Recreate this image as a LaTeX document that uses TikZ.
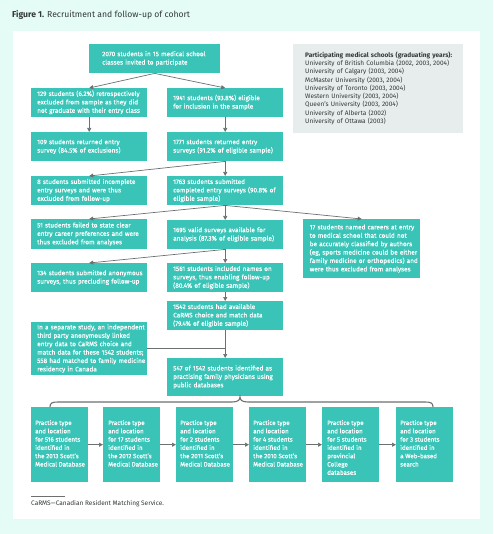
\documentclass[tikz,border=0pt]{standalone}
\usepackage{fontspec}
\setmainfont{Fira Sans}
\newfontfamily\boxfont[FakeBold=0.35]{Fira Sans}
\usetikzlibrary{arrows.meta}
\definecolor{bgc}{HTML}{E4FBF6}
\definecolor{tealb}{HTML}{3AC4B7}
\definecolor{grayb}{HTML}{E7EDEC}
\definecolor{arr}{HTML}{6B7171}
\definecolor{txtd}{HTML}{333838}
\newcommand\mylines[1]{\begin{tabular}{@{}l@{}}#1\end{tabular}}
\begin{document}
\begin{tikzpicture}[x=1pt,y=-1pt,
  tbox/.style={fill=tealb, text=white, font=\boxfont\fontsize{6.45}{8.4}\selectfont, align=left,
    inner xsep=6pt, inner ysep=0pt, anchor=north west, minimum width=116pt, text width=104pt},
  pbox/.style={fill=tealb, anchor=north west, minimum width=57pt, minimum height=75pt, inner sep=0pt},
  conn/.style={draw=arr, line width=0.7pt, -{Triangle[length=4pt,width=4pt]}},
  plain/.style={draw=arr, line width=0.7pt}]
\useasboundingbox (0,0) rectangle (493,534);
\fill[bgc] (0,0) rectangle (493,534);
\fill[white] (13,31) rectangle (480,519);
\node[anchor=west, inner sep=0pt, font=\fontsize{8.6}{10}\selectfont, text=txtd] (title) at (12,15) {\textbf{Figure 1.} Recruitment and follow-up of cohort};

\node[tbox, minimum width=131pt, text width=105pt, inner xsep=13pt, minimum height=29pt] (top) at (89,44) {\mylines{2070 students in 15 medical school\\classes invited to participate}};
\node[fill=grayb, anchor=north west, minimum width=170pt, minimum height=89pt, text width=146pt, inner xsep=12pt, align=left, text=txtd, font=\fontsize{6.5}{8.3}\selectfont] (schools) at (293,44) {\mylines{\textbf{Participating medical schools (graduating years):}\\University of British Columbia (2002, 2003, 2004)\\University of Calgary (2003, 2004)\\McMaster University (2003, 2004)\\University of Toronto (2003, 2004)\\Western University (2003, 2004)\\Queen’s University (2003, 2004)\\University of Alberta (2002)\\University of Ottawa (2003)}};

\node[tbox, minimum height=29pt] (b129) at (31,88) {\mylines{129 students (6.2\%) retrospectively\\excluded from sample as they did\\not graduate with their entry class}};
\node[tbox, minimum height=29pt] (b1941) at (167,88) {\mylines{1941 students (93.8\%) eligible\\for inclusion in the sample}};
\node[tbox, minimum height=29pt] (b109) at (31,132) {\mylines{109 students returned entry\\survey (84.5\% of exclusions)}};
\node[tbox, minimum height=29pt] (b1771) at (167,132) {\mylines{1771 students returned entry\\surveys (91.2\% of eligible sample)}};
\node[tbox, minimum height=29pt] (b8) at (31,176) {\mylines{8 students submitted incomplete\\entry surveys and were thus\\excluded from follow-up}};
\node[tbox, minimum height=29pt] (b1763) at (167,176) {\mylines{1763 students submitted\\completed entry surveys (90.8\% of\\eligible sample)}};
\node[tbox, minimum height=30pt] (b51) at (31,219) {\mylines{51 students failed to state clear\\entry career preferences and were\\thus excluded from analyses}};
\node[tbox, minimum height=29pt] (b1695) at (167,220) {\mylines{1695 valid surveys available for\\analysis (87.3\% of eligible sample)}};
\node[tbox, minimum width=117pt, minimum height=59pt] (b17) at (303,219) {\mylines{17 students named careers at entry\\to medical school that could not\\be accurately classified by authors\\(eg, sports medicine could be either\\family medicine or orthopedics) and\\were thus excluded from analyses}};
\node[tbox, minimum height=29pt] (b134) at (31,263) {\mylines{134 students submitted anonymous\\surveys, thus precluding follow-up}};
\node[tbox, minimum height=29pt] (b1561) at (167,263) {\mylines{1561 students included names on\\surveys, thus enabling follow-up\\(80.4\% of eligible sample)}};
\node[tbox, minimum height=29pt] (b1542) at (167,301) {\mylines{1542 students had available\\CaRMS choice and match data\\(79.4\% of eligible sample)}};
\node[tbox, minimum height=53pt] (sep) at (31,322) {\mylines{In a separate study, an independent\\third party anonymously linked\\entry data to CaRMS choice and\\match data for these 1542 students;\\558 had matched to family medicine\\residency in Canada}};
\node[tbox, minimum height=38pt] (b547) at (167,358) {\mylines{547 of 1542 students identified as\\practising family physicians using\\public databases}};

\begin{scope}[every node/.append style={pbox}]
\node (p1) at (31,407) {};
\node (p2) at (103,407) {};
\node (p3) at (176,407) {};
\node (p4) at (249,407) {};
\node (p5) at (322,407) {};
\node (p6) at (396,407) {};
\end{scope}
\begin{scope}[every node/.style={anchor=north west, text=white, font=\boxfont\fontsize{6.25}{8.3}\selectfont, inner sep=0pt}]
\node (t1) at (35,419) {\mylines{Practice type\\and location\\for 516 students\\identified in\\the 2013 Scott’s\\Medical Database}};
\node (t2) at (108,419) {\mylines{Practice type\\and location\\for 17 students\\identified in\\the 2012 Scott’s\\Medical Database}};
\node (t3) at (180,419) {\mylines{Practice type\\and location\\for 2 students\\identified in\\the 2011 Scott’s\\Medical Database}};
\node (t4) at (253,419) {\mylines{Practice type\\and location\\for 4 students\\identified in\\the 2010 Scott’s\\Medical Database}};
\node (t5) at (327,419) {\mylines{Practice type\\and location\\for 5 students\\identified in\\provincial\\College\\databases}};
\node (t6) at (400,419) {\mylines{Practice type\\and location\\for 3 students\\identified in\\a Web-based\\search}};
\end{scope}

\draw[conn] (top.south) -- (b129.north);
\draw[conn] (top.south) -- (b1941.north);
\draw[conn] (b129) -- (b109);
\draw[conn] (b1941) -- (b1771);
\draw[conn] (b1771.south) -- (b8.north);
\draw[conn] (b1771) -- (b1763);
\draw[conn] (b1763.south) -- (b51.north);
\draw[conn] (b1763.south) -- (b17.north);
\draw[conn] (b1763) -- (b1695);
\draw[conn] (b1695.south) -- (b134.north);
\draw[conn] (b1695) -- (b1561);
\draw[conn] (b1561) -- (b1542);
\draw[conn] (b1542) -- (b547);
\draw[plain] (sep.east) -- (sep.east -| b1542.south);
\draw[conn] (p1) -- (p2);
\draw[conn] (p2) -- (p3);
\draw[conn] (p3) -- (p4);
\draw[conn] (p4) -- (p5);
\draw[conn] (p5) -- (p6);

\draw[arr, line width=1.1pt] (50,407) .. controls (50,403) and (52,402) .. (58,402) -- (232,402) .. controls (238,402) and (240,400) .. (240,397) .. controls (240,400) and (242,402) .. (248,402) -- (425,402) .. controls (431,402) and (433,403) .. (433,407);

\draw[arr, line width=0.4pt] (31,496) -- (65,496);
\node[anchor=west, inner sep=0pt, font=\fontsize{6.5}{8}\selectfont, text=txtd] (foot) at (31,504) {CaRMS—Canadian Resident Matching Service.};
\end{tikzpicture}
\end{document}
